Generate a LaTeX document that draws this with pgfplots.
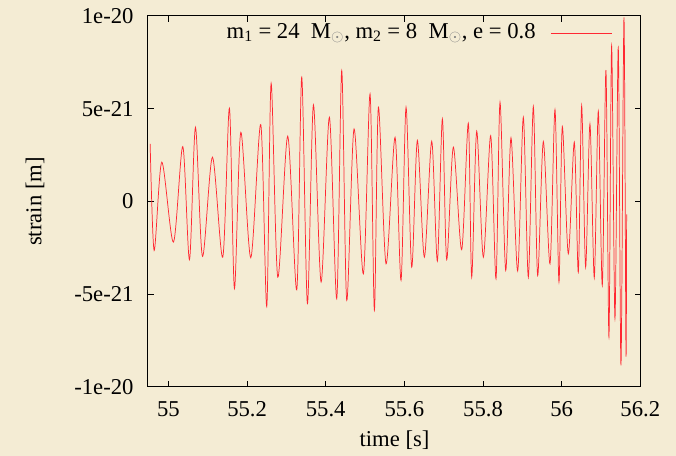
\documentclass[border=0pt]{standalone}
\usepackage{pgfplots}
\pgfplotsset{compat=1.18}
\usepackage{fontspec}
\setmainfont{Liberation Serif}
\definecolor{bg}{RGB}{244,236,212}
\definecolor{curve}{RGB}{255,40,50}
\begin{document}
\fontsize{17}{20}\selectfont
\begin{tikzpicture}
\path[use as bounding box, fill=bg] (0,0) rectangle (507pt,342pt);
\begin{axis}[
  at={(111pt,51.75pt)}, anchor=south west,
  scale only axis, width=369.75pt, height=278.25pt,
  xmin=54.948, xmax=56.2017, ymin=-10, ymax=10,
  axis line style={black, line width=0.75pt},
  tick style={black, line width=0.75pt},
  tick align=inside, major tick length=4.5pt,
  xtick={55,55.2,55.4,55.6,55.8,56,56.2},
  xticklabels={55,55.2,55.4,55.6,55.8,56,56.2},
  ytick={-10,-5,0,5,10},
  yticklabels={-1e-20,-5e-21,0,5e-21,1e-20},
  ticklabel style={font=\fontsize{17}{20}\selectfont},
  xticklabel style={yshift=-5pt},
  yticklabel style={xshift=-5pt},
  xlabel={time [s]}, ylabel={strain [m]},
  label style={font=\fontsize{17}{20}\selectfont},
  xlabel style={at={(axis description cs:0.5,-0.143)}, anchor=center},
  ylabel style={at={(axis description cs:-0.229,0.5)}, anchor=center},
  clip=false,
]
\addplot[curve, line width=0.55pt, smooth] coordinates {
(54.9535,3.1) (54.9636,-2.64) (54.9831,2.12) (55.0127,-2.19) (55.0365,2.96)
(55.0535,-3.14) (55.0687,4.0) (55.0865,-2.96) (55.1119,2.39) (55.1382,-3.0)
(55.1551,5.03) (55.1678,-4.70) (55.1840,3.73) (55.2094,-3.03) (55.2348,4.15)
(55.2500,-5.66) (55.2611,6.37) (55.2780,-4.08) (55.3034,3.52) (55.3263,-4.76)
(55.3390,6.70) (55.3534,-5.51) (55.3687,5.21) (55.3882,-4.34) (55.4093,4.54)
(55.4280,-5.24) (55.4407,7.06) (55.4534,-5.33) (55.4720,3.91) (55.4957,-3.90)
(55.5127,5.80) (55.5237,-5.87) (55.5339,5.08) (55.5534,-3.36) (55.5763,3.46)
(55.5915,-4.25) (55.6042,5.08) (55.6186,-3.54) (55.6330,3.29) (55.6508,-3.0)
(55.6695,3.25) (55.6839,-3.21) (55.6966,4.45) (55.7076,-3.14) (55.7245,2.93)
(55.7457,-2.60) (55.7626,4.22) (55.7712,-4.08) (55.7839,3.79) (55.8008,-3.0)
(55.8195,3.55) (55.8330,-4.17) (55.8432,5.35) (55.8576,-3.72) (55.8711,3.43)
(55.8881,-3.75) (55.9025,4.54) (55.9152,-4.08) (55.9279,5.12) (55.9389,-3.99)
(55.9533,3.23) (55.9703,-3.36) (55.9830,4.96) (55.9931,-4.34) (56.0016,4.04)
(56.0168,-2.82) (56.0321,3.20) (56.0423,-3.81) (56.0508,5.17) (56.0609,-3.54)
(56.0719,4.18) (56.0829,-4.11) (56.0931,4.87) (56.1033,-4.52) (56.1126,7.06)
(56.1202,-7.31) (56.1270,8.40) (56.1355,-6.32) (56.1439,8.31) (56.1508,-8.83)
(56.1584,9.93) (56.1635,-8.20) (56.1652,-0.7)
};
\node[anchor=east, inner sep=0pt, font=\fontsize{17}{20}\selectfont] at (axis description cs:0.787,0.954) {m\textsubscript{1} = 24~~M\textsubscript{\color{gray}$\odot$}, m\textsubscript{2} = 8~~M\textsubscript{\color{gray}$\odot$}, e = 0.8};
\draw[curve, line width=0.6pt] (axis description cs:0.817,0.954) -- (axis description cs:0.941,0.954);
\end{axis}
\end{tikzpicture}
\end{document}
